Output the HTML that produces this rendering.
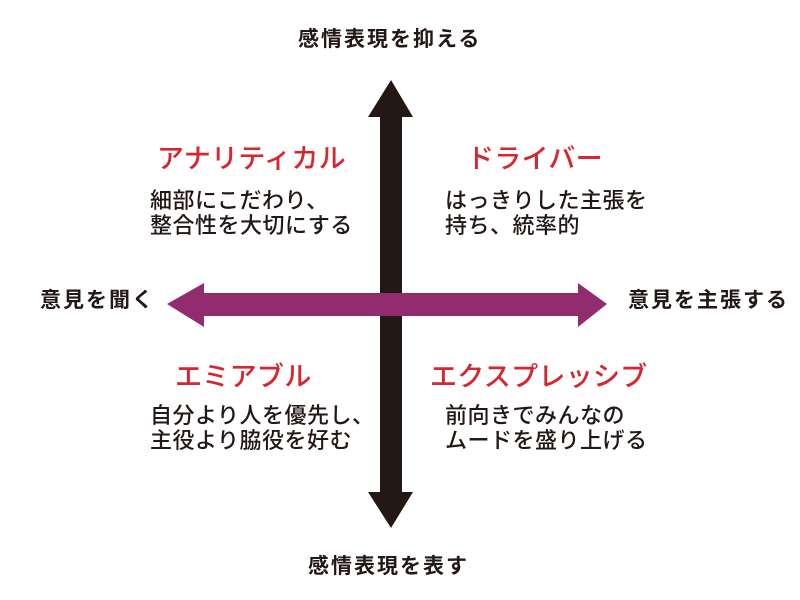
<!DOCTYPE html>
<html><head><meta charset="utf-8"><style>
body{margin:0;width:800px;height:600px;background:#fff;position:relative;overflow:hidden;font-family:"Liberation Sans","Noto Sans CJK JP",sans-serif;color:#231815}
.t{position:absolute;white-space:nowrap;line-height:1}
.red{color:#d7262f;font-size:27px;font-weight:500;letter-spacing:0.3px}
.body{font-size:22px;line-height:24.5px;font-weight:500;letter-spacing:0.5px}
.ax{font-size:21px;font-weight:700;letter-spacing:2px}
</style></head><body>
<svg width="800" height="600" style="position:absolute;left:0;top:0">
<polygon points="391,80 413,117 402,117 402,492 413,492 391,528 368,492 380,492 380,117 368,117" fill="#231815"/>
<polygon points="167,304 204,283 204,293 578,293 578,283 607,304 578,327 578,316 204,316 204,327" fill="#922c6e"/>
</svg>
<div class="t ax" style="left:298px;top:29px">感情表現を抑える</div>
<div class="t ax" style="left:308px;top:556px">感情表現を表す</div>
<div class="t ax" style="left:40px;top:290px">意見を聞く</div>
<div class="t ax" style="left:628px;top:290px">意見を主張する</div>
<div class="t red" style="left:157px;top:146px">アナリティカル</div>
<div class="t red" style="left:467px;top:146px">ドライバー</div>
<div class="t red" style="left:175px;top:364px">エミアブル</div>
<div class="t red" style="left:430px;top:364px">エクスプレッシブ</div>
<div class="t body" style="left:150px;top:189px">細部にこだわり、<br>整合性を大切にする</div>
<div class="t body" style="left:445px;top:189px">はっきりした主張を<br>持ち、統率的</div>
<div class="t body" style="left:150px;top:404px">自分より人を優先し、<br>主役より脇役を好む</div>
<div class="t body" style="left:445px;top:404px">前向きでみんなの<br>ムードを盛り上げる</div>
</body></html>
